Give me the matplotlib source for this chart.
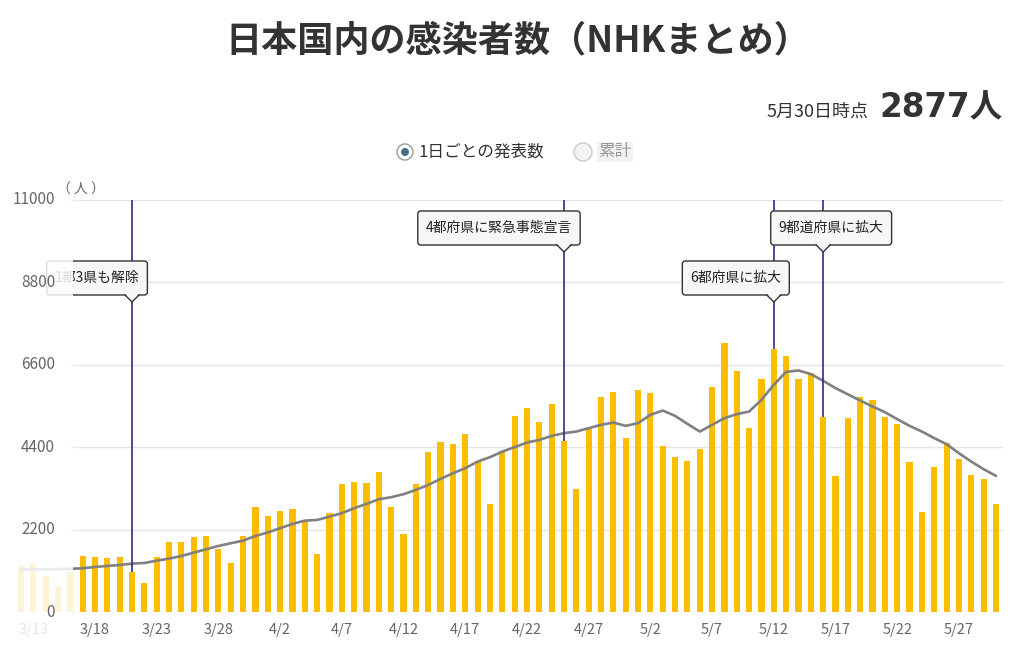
"""
plot.py

NHK daily covid cases in Japan, 2021/3/12 - 5/30, with 7-day average
"""
import numpy as np
import pandas as pd
import matplotlib
matplotlib.use('Agg')
import matplotlib.pyplot as plt
import matplotlib.transforms as mtransforms
from matplotlib.patches import Rectangle, FancyBboxPatch, Polygon, Circle
from matplotlib.lines import Line2D

plt.rcParams['font.family'] = ['Noto Sans CJK JP', 'DejaVu Sans']

dates = pd.date_range('2021-03-12', '2021-05-30', freq='D')

daily = [
    1236, 1308, 969, 684, 1084, 1503, 1469, 1442, 1469, 1076,
    774, 1469, 1877, 1877, 2011, 2037, 1698, 1308, 2037, 2804,
    2579, 2713, 2750, 2446, 1549, 2643, 3418, 3487, 3444, 3754,
    2820, 2091, 3418, 4280, 4547, 4486, 4753, 4040, 2883, 4315,
    5241, 5447, 5073, 5554, 4574, 3284, 4886, 5741, 5874, 4646,
    5943, 5847, 4440, 4138, 4040, 4352, 6007, 7182, 6451, 4913,
    6221, 7022, 6851, 6221, 6381, 5206, 3647, 5180, 5741, 5668,
    5206, 5020, 4005, 2670, 3871, 4512, 4101, 3666, 3567, 2877,
]

avg7 = [
    1140, 1145, 1148, 1150, 1160, 1175, 1210, 1236, 1263, 1298,
    1316, 1378, 1431, 1503, 1591, 1682, 1770, 1842, 1912, 2037,
    2130, 2243, 2358, 2446, 2464, 2553, 2643, 2777, 2892, 3017,
    3071, 3151, 3265, 3399, 3559, 3711, 3845, 4021, 4138, 4288,
    4406, 4529, 4600, 4707, 4779, 4822, 4913, 5001, 5062, 4974,
    5046, 5268, 5383, 5241, 5028, 4822, 5001, 5180, 5287, 5356,
    5668, 6069, 6416, 6451, 6355, 6176, 5981, 5815, 5650, 5490,
    5340, 5153, 4974, 4822, 4646, 4486, 4245, 4021, 3818, 3639,
]

tick_labels = ['3/13', '3/18', '3/23', '3/28', '4/2', '4/7', '4/12', '4/17',
               '4/22', '4/27', '5/2', '5/7', '5/12', '5/17', '5/22', '5/27']
yticks = [0, 2200, 4400, 6600, 8800, 11000]

event_dates = ['2021-03-21', '2021-04-25', '2021-05-12', '2021-05-16']
event_labels = ['1都3県も解除', '4都府県に緊急事態宣言', '6都府県に拡大', '9都道府県に拡大']
event_dx = [-35, -65, -38, 8]      # box centre relative to the line, px
event_level = [1, 0, 1, 0]         # 0 = upper row, 1 = lower row

YMAX = 11000
W, H = 1020, 651

fig = plt.figure(figsize=(W / 100, H / 100), dpi=100)
fig.patch.set_facecolor('white')
ax = fig.add_axes([15 / W, 1 - 612.3 / H, 988 / W, 412.3 / H])

x = np.arange(len(dates))
day_str = [f'{d.month}/{d.day}' for d in dates]

ax.set_xlim(-0.48, 79.57)
ax.set_ylim(0, YMAX)
for s in ax.spines.values():
    s.set_visible(False)
ax.set_yticks([])

# grid
for v in yticks[1:]:
    ax.axhline(v, xmin=52 / 988, xmax=1, color='#e6e6e6', lw=1, zorder=0)
ax.axhline(0, color='#ccd6eb', lw=1, zorder=1)

ax.bar(x, daily, width=0.5, color='#fabd00', zorder=2)
ax.plot(x, avg7, color='#808080', lw=1.9, zorder=3, solid_capstyle='round')

tick_pos = [day_str.index(t) for t in tick_labels]
ax.set_xticks(tick_pos)
ax.set_xticklabels(tick_labels, fontsize=10.5, color='#666666')
ax.tick_params(axis='x', length=0, pad=8)

# event lines and callouts
renderer = fig.canvas.get_renderer()
ident = mtransforms.IdentityTransform()
for d, lab, dx, lvl in zip(event_dates, event_labels, event_dx, event_level):
    i = list(dates).index(pd.Timestamp(d))
    ax.vlines(i, daily[i], YMAX, color='#2b2b85', lw=1.2, zorder=3)
    px, ptop = ax.transData.transform((i, YMAX))
    cy = ptop - (28 if lvl == 0 else 78)
    cx = px + dx
    t = ax.text(cx, cy, lab, transform=ident, ha='center', va='center',
                fontsize=10, color='#222222', zorder=4.6, clip_on=False)
    bb = t.get_window_extent(renderer)
    w, h = bb.width + 16, 34
    box = FancyBboxPatch((cx - w / 2, cy - h / 2), w, h,
                         boxstyle='round,pad=0,rounding_size=3',
                         transform=ident, fc='#f7f7f7', ec='#333333', lw=1,
                         zorder=4.2, clip_on=False)
    ax.add_patch(box)
    yb = cy - h / 2
    tri = Polygon([(px - 7, yb + 1.5), (px + 7, yb + 1.5), (px, yb - 7)],
                  closed=True, transform=ident, fc='#f7f7f7', ec='none',
                  zorder=4.3, clip_on=False)
    ax.add_patch(tri)
    ax.add_line(Line2D([px - 7, px, px + 7], [yb, yb - 7, yb], transform=ident,
                       color='#333333', lw=1, zorder=4.4, clip_on=False))

# white fade over the left edge
ax.add_patch(Rectangle((0, 0), 73 / W, 1 - 180 / H, transform=fig.transFigure,
                       fc='white', ec='none', alpha=0.84, zorder=5, clip_on=False))

ylab_tr = mtransforms.blended_transform_factory(fig.transFigure, ax.transData)
for v in yticks:
    ax.text(55 / W, v, str(v), transform=ylab_tr, ha='right', va='center',
            fontsize=11, color='#666666', zorder=6, clip_on=False)
fig.text(57 / W, 1 - 190 / H, '（ 人 ）', ha='left', va='center', fontsize=10,
         color='#666666')

# titles
fig.text(518 / W, 1 - 41 / H, '日本国内の感染者数（NHKまとめ）', ha='center', va='center',
         fontsize=26, fontweight='bold', color='#333333')
fig.text(1003 / W, 1 - 117 / H, '2877人', ha='right', va='baseline',
         fontsize=23.5, fontweight='bold', color='#333333',
         family=['DejaVu Sans', 'Noto Sans CJK JP'])
fig.text(869 / W, 1 - 117 / H, '5月30日時点', ha='right', va='baseline',
         fontsize=13, color='#333333')

# radio-button legend
ly = H - 152
fig.add_artist(Circle((405, ly), 8, transform=ident, fc='white', ec='#9a9a9a', lw=1))
fig.add_artist(Circle((405, ly), 4, transform=ident, fc='#4a6d8c', ec='none'))
fig.text(419 / W, 1 - 152 / H, '1日ごとの発表数', ha='left', va='center',
         fontsize=12, color='#333333')
fig.add_artist(Circle((583, ly), 9, transform=ident, fc='#f4f4f4', ec='#c8c8c8', lw=1))
fig.text(598 / W, 1 - 152 / H, '累計', ha='left', va='center', fontsize=12,
         color='#999999', bbox=dict(fc='#f2f2f2', ec='none', pad=1))

fig.savefig('out.png', dpi=100)
